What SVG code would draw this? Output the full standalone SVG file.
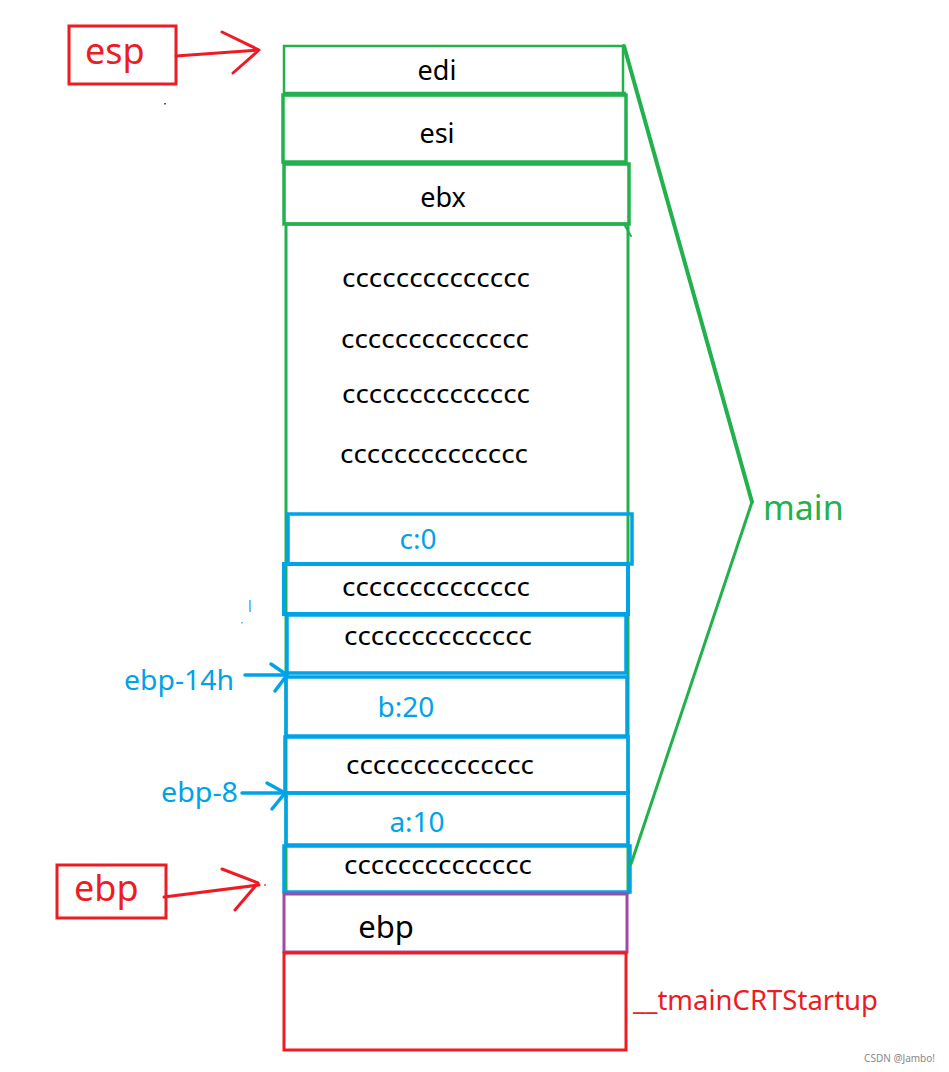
<svg xmlns="http://www.w3.org/2000/svg" width="949" height="1072" viewBox="0 0 949 1072">
<style>
.g{fill:none;stroke:#22b14c;stroke-width:3}
.b{fill:none;stroke:#00a2e8;stroke-width:3.5}
.r{fill:none;stroke:#ed1c24;stroke-width:3}
.p{fill:none;stroke:#a349a4;stroke-width:3}
.t{font-family:"Noto Sans","Open Sans","DejaVu Sans",sans-serif;font-size:27px;fill:#000;text-anchor:middle}
.cc{font-family:"Noto Sans","Open Sans","DejaVu Sans",sans-serif;font-size:26px;fill:#000}
.bt{font-family:"Noto Sans","Open Sans","DejaVu Sans",sans-serif;font-size:28px;fill:#00a2e8}
.rt{font-family:"Noto Sans","Open Sans","DejaVu Sans",sans-serif;font-size:36px;fill:#ed1c24}
</style>
<rect width="949" height="1072" fill="#fff"/>

<g id="main-frame">
<rect class="g" x="286" y="224" width="342" height="669"/>
</g>
<g id="edi"><rect class="g" x="284" y="46" width="339" height="48" style="stroke-width:2.5"/><line x1="283" y1="94" x2="626" y2="94" stroke="#22b14c" stroke-width="4.5"/><text class="t" x="437" y="80">edi</text></g>
<g id="esi"><rect class="g" x="283" y="95" width="343" height="67" style="stroke-width:3.5"/><text class="t" x="437" y="143">esi</text></g>
<g id="ebx"><rect class="g" x="284" y="164" width="345" height="60" style="stroke-width:3.5"/><text class="t" x="443" y="207">ebx</text></g>
<g id="fill-rows">
<text class="cc" x="342" y="287" textLength="188" lengthAdjust="spacingAndGlyphs">cccccccccccccc</text>
<text class="cc" x="341" y="348" textLength="188" lengthAdjust="spacingAndGlyphs">cccccccccccccc</text>
<text class="cc" x="342" y="403" textLength="188" lengthAdjust="spacingAndGlyphs">cccccccccccccc</text>
<text class="cc" x="340" y="463" textLength="188" lengthAdjust="spacingAndGlyphs">cccccccccccccc</text>
</g>
<g id="var-c"><rect class="b" x="288" y="514" width="344" height="50"/><text class="bt" x="418" y="549" text-anchor="middle">c:0</text></g>
<g id="pad1"><rect class="b" x="284" y="564" width="344" height="50" style="stroke-width:4"/><text class="cc" x="342" y="596" textLength="188" lengthAdjust="spacingAndGlyphs">cccccccccccccc</text></g>
<g id="pad2"><rect class="b" x="287" y="615" width="339" height="58"/><text class="cc" x="344" y="645" textLength="188" lengthAdjust="spacingAndGlyphs">cccccccccccccc</text></g>
<g id="var-b"><rect class="b" x="286" y="677" width="341" height="59"/><text class="bt" x="406" y="717" text-anchor="middle">b:20</text></g>
<g id="pad3"><rect class="b" x="285" y="737" width="343" height="56"/><text class="cc" x="346" y="774" textLength="188" lengthAdjust="spacingAndGlyphs">cccccccccccccc</text></g>
<g id="var-a"><rect class="b" x="286" y="793" width="342" height="52"/><text class="bt" x="417" y="832" text-anchor="middle">a:10</text></g>
<g id="pad4"><rect class="b" x="284" y="846" width="346" height="46"/><text class="cc" x="344" y="874" textLength="188" lengthAdjust="spacingAndGlyphs">cccccccccccccc</text></g>
<g id="saved-ebp"><rect class="p" x="284" y="894" width="343" height="58"/><text class="t" x="386" y="938" style="font-size:31px">ebp</text></g>
<g id="tmainCRTStartup"><rect class="r" x="284" y="953" width="342" height="97"/><text x="633" y="1010" font-family="Noto Sans, Open Sans, sans-serif" font-size="27" fill="#ed1c24" textLength="245" lengthAdjust="spacingAndGlyphs">__tmainCRTStartup</text></g>

<g id="esp-label"><rect class="r" x="69" y="26" width="107" height="58"/><text class="rt" x="85" y="64">esp</text></g>
<g id="ebp-label"><rect class="r" x="57" y="865" width="109" height="53"/><text class="rt" x="74" y="901">ebp</text></g>
<g id="ebp-14h-label"><text class="bt" x="124" y="690" textLength="110" lengthAdjust="spacingAndGlyphs">ebp-14h</text></g>
<g id="ebp-8-label"><text class="bt" x="161" y="802" textLength="77" lengthAdjust="spacingAndGlyphs">ebp-8</text></g>
<g id="main-label"><text x="763" y="520" font-family="Noto Sans, Open Sans, sans-serif" font-size="34" fill="#22b14c">main</text></g>

<g id="connectors" fill="none" stroke-linecap="round" stroke-linejoin="round">
<path d="M176 56 L258 50" stroke="#ed1c24" stroke-width="3"/>
<path d="M222 32 L259 50 L233 73" stroke="#ed1c24" stroke-width="3"/>
<path d="M164 897 L259 885" stroke="#ed1c24" stroke-width="3"/>
<path d="M222 869 L258 883 L235 910" stroke="#ed1c24" stroke-width="3"/>
<path d="M245 675 L287 675" stroke="#00a2e8" stroke-width="3.5"/>
<path d="M271 664 L287 675 L275 691" stroke="#00a2e8" stroke-width="3.5"/>
<path d="M242 793 L286 793" stroke="#00a2e8" stroke-width="3.5"/>
<path d="M267 783 L285 793 L272 809" stroke="#00a2e8" stroke-width="3.5"/>
<path d="M624 46 L752 502" stroke="#22b14c" stroke-width="4"/>
<path d="M752 502 L631 864" stroke="#22b14c" stroke-width="3"/>
<path d="M625 226 L631 236" stroke="#22b14c" stroke-width="2"/>
</g>
<g id="specks">
<rect x="164" y="103" width="2" height="1.5" fill="#55558a"/>
<rect x="264" y="884" width="2" height="2" fill="#ed1c24" opacity="0.6"/>
<line x1="250" y1="600" x2="250" y2="612" stroke="#00a2e8" stroke-width="1.2"/>
<rect x="241" y="622" width="2" height="1.5" fill="#00a2e8" opacity="0.6"/>
</g>
<text x="935" y="1062" font-family="Noto Sans, Liberation Sans, sans-serif" font-size="10" fill="#888" text-anchor="end">CSDN @Jambo!</text>
</svg>
